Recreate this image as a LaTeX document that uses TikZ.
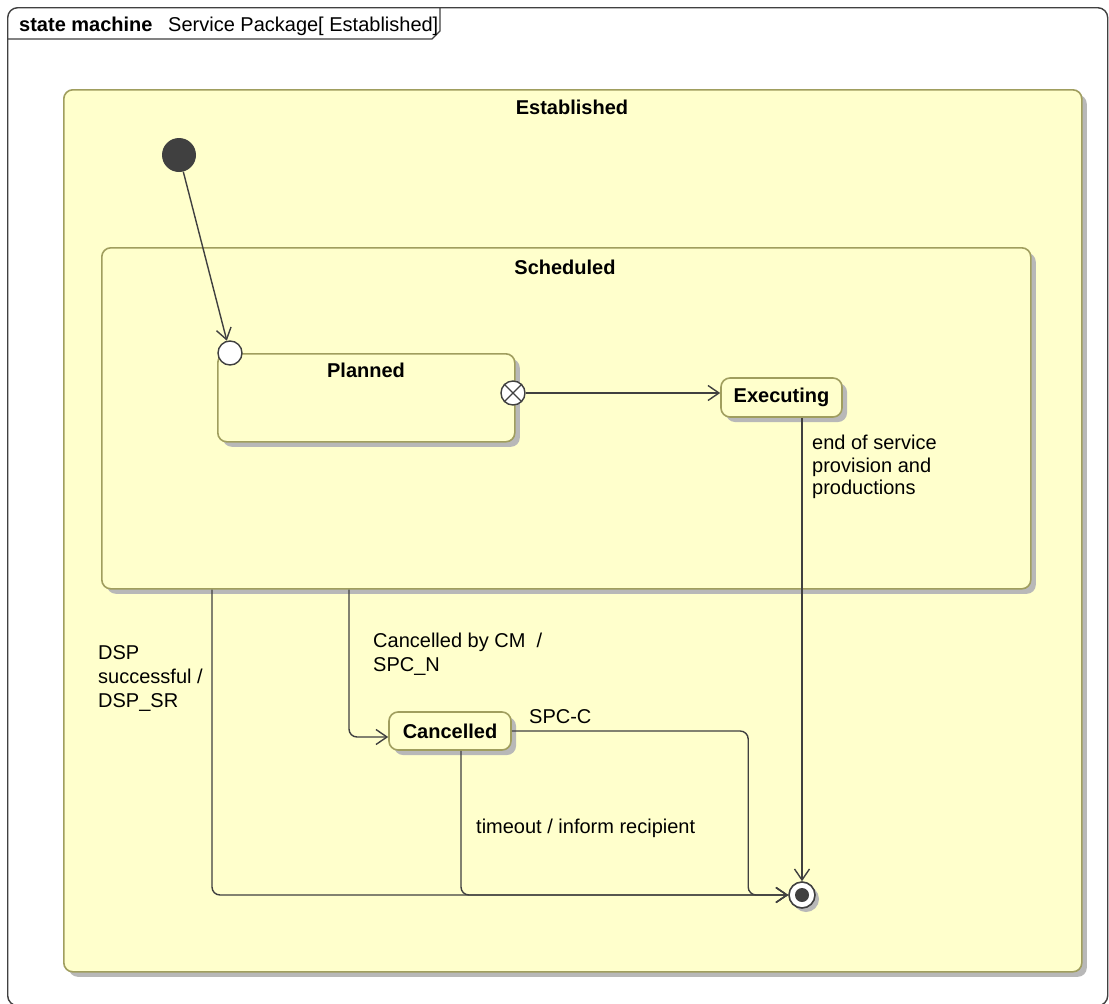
\documentclass[tikz,border=0pt]{standalone}
\usepackage{fontspec}
\setmainfont{Liberation Sans}
\usetikzlibrary{arrows.meta,shadows}
\definecolor{stfill}{HTML}{FFFFCC}
\definecolor{stborder}{HTML}{A09E5E}
\definecolor{shd}{HTML}{B8B8B8}
\definecolor{ln}{HTML}{404040}
\begin{document}
\begin{tikzpicture}[x=1pt,y=-1pt,
  font=\fontsize{20}{24}\selectfont,
  statebox/.style={draw=stborder, fill=stfill, line width=1.6pt, rounded corners=9pt,
    drop shadow={shadow xshift=5pt,shadow yshift=-5pt,fill=shd,opacity=1},
    inner sep=0pt, anchor=north west},
  ttl/.style={anchor=base, font=\fontsize{20}{24}\selectfont\bfseries, inner sep=0pt},
  lbl/.style={anchor=north west, align=left, inner sep=0pt},
  conn/.style={draw=ln, line width=1.4pt, rounded corners=8pt, -{Straight Barb[length=11pt,width=15pt,line width=1.4pt]}},
  pin/.style={circle, draw=ln, fill=white, line width=1.4pt, minimum size=24pt, inner sep=0pt}
]
\useasboundingbox (0,0) rectangle (1109,1004);
\fill[white] (0,0) rectangle (1109,1004);

% frame
\node[draw=ln, line width=1.4pt, rounded corners=10pt, minimum width=1100pt, minimum height=998pt, inner sep=0pt, anchor=north west] (frame) at (7,7) {};
\draw[ln, line width=1.4pt] (7,39) -- (432,39) -- (440,31) -- (440,7);
\node[anchor=base west, inner sep=0pt] (frameT) at (19,31) {\textbf{state machine}};
\node[anchor=base west, inner sep=0pt] (frameN) at (168,31) {Service Package[ Established]};

% states
\node[statebox, minimum width=1018pt, minimum height=882pt] (est) at (63,89) {};
\node[ttl] (estT) at (572,114) {Established};

\node[statebox, minimum width=929pt, minimum height=341pt] (sched) at (101,247) {};
\node[ttl] (schedT) at (565,274) {Scheduled};

\node[statebox, minimum width=297pt, minimum height=88pt] (plan) at (217,353) {};
\node[ttl] (planT) at (366,377) {Planned};

\node[statebox, minimum width=121pt, minimum height=39pt, anchor=center, font=\fontsize{20}{24}\selectfont\bfseries] (exec) at (781.5,397.5) {Executing};
\node[statebox, minimum width=122pt, minimum height=38pt, anchor=center, font=\fontsize{20}{24}\selectfont\bfseries] (canc) at (450,731) {Cancelled};

% pseudo states
\node[circle, fill=ln, minimum size=34pt, inner sep=0pt] (init) at (179,155) {};
\node[pin] (entry) at (230,353) {};
\node[pin] (exit) at (513,393) {};
\draw[ln, line width=1.4pt] (exit.north east) -- (exit.south west) (exit.north west) -- (exit.south east);
\node[circle, draw=ln, fill=white, line width=1.6pt, minimum size=26pt, inner sep=0pt,
  drop shadow={shadow xshift=4pt,shadow yshift=-4pt,fill=shd,opacity=1}] (final) at (802,895) {};
\node[circle, fill=ln, minimum size=14pt, inner sep=0pt] (finalin) at (final) {};

% transitions
\draw[conn] (init) -- (entry);
\draw[conn] (exit.east) -- (exec.west |- exit.east);
\draw[conn] (final.north |- exec.south) -- (final.north);
\draw[conn] ([xshift=111pt]sched.south west) |- (final.west);
\draw[conn] ([xshift=248pt]sched.south west) |- ([yshift=-6pt]canc.west);
\draw[conn] (canc.east) -| ([xshift=-40pt]final.west) -- (final.west);
\draw[conn] ([xshift=11pt]canc.south) |- (final.west);

% labels
\node[lbl, font=\fontsize{20}{22.5}\selectfont] (l1) at (812,435) {end of service\\provision and\\productions};
\node[lbl] (l2) at (98,645) {DSP\\successful /\\DSP\_SR};
\node[lbl] (l3) at (373,633) {Cancelled by CM~~/\\SPC\_N};
\node[anchor=base west, inner sep=0pt] (l4) at (529,723) {SPC-C};
\node[anchor=base west, inner sep=0pt] (l5) at (476,833) {timeout / inform recipient};
\end{tikzpicture}
\end{document}
